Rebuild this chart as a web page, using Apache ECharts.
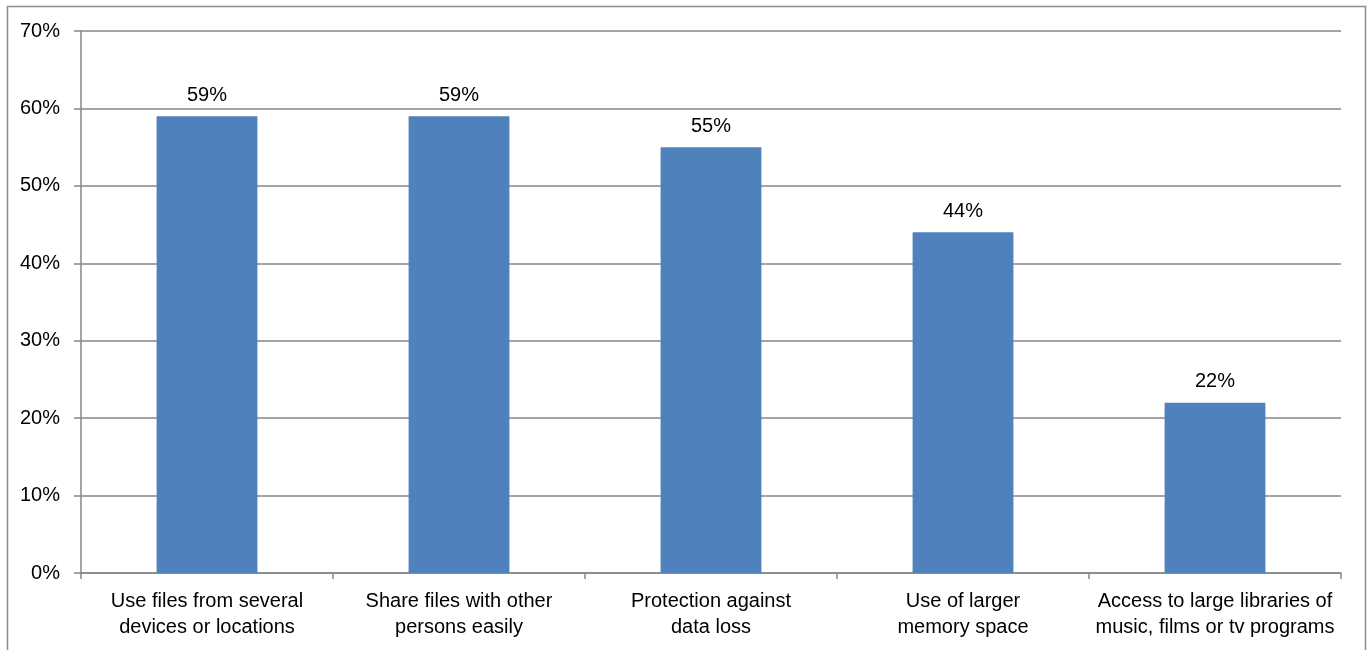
<!DOCTYPE html>
<html><head><meta charset="utf-8">
<script src="https://cdn.jsdelivr.net/npm/echarts@6/dist/echarts.min.js"></script>
<style>html,body{margin:0;padding:0;background:#fff}#c{width:1369px;height:650px}</style>
</head><body><div id="c"></div>
<script>
var categories = ["Use files from several\ndevices or locations","Share files with other\npersons easily","Protection against\ndata loss","Use of larger\nmemory space","Access to large libraries of\nmusic, films or tv programs"];
var values = [59, 59, 55, 44, 22];
var yTicks = [0, 10, 20, 30, 40, 50, 60, 70];
var font = '"Liberation Sans", Arial, sans-serif';
var chart = echarts.init(document.getElementById('c'));
chart.setOption({
  animation: false,
  graphic: [{type:'rect', shape:{x:7.5,y:6.5,width:1358,height:700}, style:{fill:'none', stroke:'#8c8c8c', lineWidth:1.5}, silent:true}],
  grid: {left:81, right:28, top:31, bottom:77},
  xAxis: {
    type:'category', data:categories, boundaryGap:true,
    axisLine:{lineStyle:{color:'#868686', width:1.5}},
    axisTick:{show:true, length:6, alignWithLabel:false, lineStyle:{color:'#868686', width:1.5}},
    axisLabel:{color:'#000', fontFamily:font, fontSize:20, lineHeight:26, margin:15, interval:0}
  },
  yAxis: {
    type:'value', min:yTicks[0], max:yTicks[yTicks.length-1], interval:10,
    axisLine:{show:true, lineStyle:{color:'#868686', width:1.5}},
    axisTick:{show:true, length:7, lineStyle:{color:'#868686', width:1.5}},
    axisLabel:{color:'#000', fontFamily:font, fontSize:20, margin:21, formatter:'{value}%'},
    splitLine:{show:true, lineStyle:{color:'#868686', width:1.5}}
  },
  series: [{
    type:'bar', data:values, barWidth:'40%',
    itemStyle:{color:'#4F81BD'},
    label:{show:true, position:'top', distance:11, color:'#000', fontFamily:font, fontSize:20, formatter:'{c}%'}
  }]
});
</script></body></html>
